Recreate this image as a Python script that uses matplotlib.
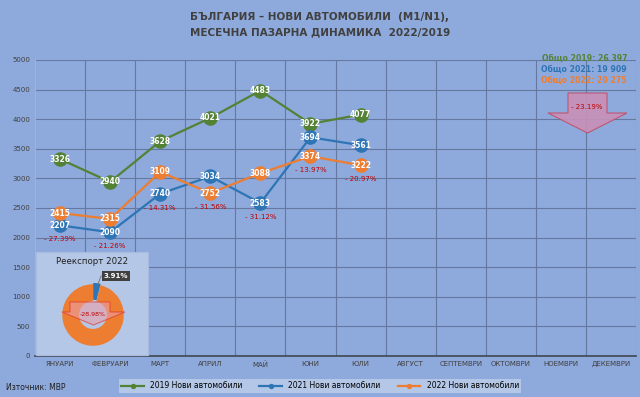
import numpy as np
import matplotlib.pyplot as plt
from matplotlib.patches import Polygon, Rectangle

months = ["ЯНУАРИ", "ФЕВРУАРИ", "МАРТ", "АПРИЛ", "МАЙ", "ЮНИ", "ЮЛИ",
          "АВГУСТ", "СЕПТЕМВРИ", "ОКТОМВРИ", "НОЕМВРИ", "ДЕКЕМВРИ"]
cars_2019 = [3326, 2940, 3628, 4021, 4483, 3922, 4077]
cars_2021 = [2207, 2090, 2740, 3034, 2583, 3694, 3561]
cars_2022 = [2415, 2315, 3109, 2752, 3088, 3374, 3222]
change_pct = ["- 27.39%", "- 21.26%", "- 14.31%", "- 31.56%", "- 31.12%", "- 13.97%", "- 20.97%"]
totals = ["Общо 2019: 26 397", "Общо 2021: 19 909", "Общо 2022: 20 275"]
total_change = "- 23.19%"
reexport_share = [3.91, 96.09]
reexport_change = "-28.98%"

bg = "#8EA9DB"
light = "#B4C7E7"
green = "#548235"
blue = "#2E75B6"
orange = "#ED7D31"
red = "#C00000"
W, H = 640, 397

fig = plt.figure(figsize=(6.4, 3.97), dpi=100, facecolor=bg)
ax = fig.add_axes([35 / W, 1 - 356 / H, 601 / W, 296 / H])
ax.set_facecolor(bg)

x = np.arange(len(cars_2019))
series = [(cars_2019, green, "2019 Нови автомобили"),
          (cars_2021, blue, "2021 Нови автомобили"),
          (cars_2022, orange, "2022 Нови автомобили")]
for vals, c, lab in series:
    ax.plot(x, vals, color=c, lw=1.6, marker="o", ms=9.5, mec=c, label=lab, zorder=3)
    for xi, v in zip(x, vals):
        ax.text(xi, v, str(v), color="white", fontsize=5.5, fontweight="bold",
                ha="center", va="center", zorder=4)

for xi, p in enumerate(change_pct):
    low = min(cars_2019[xi], cars_2021[xi], cars_2022[xi])
    ax.annotate(p, (xi, low), xytext=(0, -10), textcoords="offset points",
                ha="center", va="center", color=red, fontsize=5, zorder=4)

ax.set_xlim(-0.5, 11.5)
ax.set_ylim(0, 5000)
ax.set_yticks(np.arange(0, 5001, 500))
ax.set_xticks(np.arange(12))
ax.set_xticklabels(months)
ax.set_xticks(np.arange(-0.5, 12, 1), minor=True)
ax.tick_params(axis="both", which="major", length=0, labelsize=5, colors="#404040")
ax.tick_params(axis="x", which="minor", length=0)
ax.grid(axis="y", color="#6478A0", lw=0.8)
ax.grid(axis="x", which="minor", color="#6478A0", lw=0.8)
for s in ["top", "right"]:
    ax.spines[s].set_visible(False)
ax.spines["left"].set_color("#9FB3DB")
ax.spines["bottom"].set_color("#404850")
ax.spines["bottom"].set_linewidth(1.2)

fig.text(0.5, 1 - 17 / H, "БЪЛГАРИЯ – НОВИ АВТОМОБИЛИ  (M1/N1),", ha="center", va="center",
         fontsize=7.5, fontweight="bold", color="#404040")
fig.text(0.5, 1 - 32 / H, "МЕСЕЧНА ПАЗАРНА ДИНАМИКА  2022/2019", ha="center", va="center",
         fontsize=7.5, fontweight="bold", color="#404040")

for i, (t, c) in enumerate(zip(totals, [green, blue, orange])):
    fig.text(627 / W, 1 - (58 + 11 * i) / H, t, ha="right", va="center",
             fontsize=5.6, fontweight="bold", color=c)

def down_arrow(x0, x1, sx0, sx1, ytop, yhead, ytip, **kw):
    pts = [(sx0, ytop), (sx1, ytop), (sx1, yhead), (x1, yhead),
           ((x0 + x1) / 2, ytip), (x0, yhead), (sx0, yhead)]
    pts = [(px / W, 1 - py / H) for px, py in pts]
    fig.add_artist(Polygon(pts, closed=True, transform=fig.transFigure, **kw))

down_arrow(548, 627, 568, 607, 93, 113, 133, fc="#C890B8", ec="#C0506A", lw=0.8, alpha=0.9, zorder=5)
fig.text(587 / W, 1 - 107 / H, total_change, ha="center", va="center", fontsize=5,
         color=red, zorder=6)

# inset reexport donut
fig.add_artist(Rectangle((36 / W, 1 - 355 / H), 112 / W, 103 / H, transform=fig.transFigure,
                         fc=light, ec="#A9BCE0", lw=0.8, zorder=6))
fig.text(92 / W, 1 - 261 / H, "Реекспорт 2022", ha="center", va="center", fontsize=6.2,
         color="#202020", zorder=7)
pax = fig.add_axes([(93 - 34) / W, 1 - (315 + 34) / H, 68 / W, 68 / H], zorder=8)
pax.set_facecolor("none")
pax.pie(reexport_share, colors=[blue, orange], startangle=90, counterclock=False,
        explode=[0.04, 0], wedgeprops=dict(width=0.52, ec="none"), radius=0.95)
pax.set_xlim(-1.05, 1.05)
pax.set_ylim(-1.05, 1.05)
pax.set_aspect("equal")
pax.axis("off")
down_arrow(62, 125, 70, 110, 302, 312, 325, fc="#E8A0A8", ec="#E03020", lw=0.8,
           alpha=0.6, zorder=9)
fig.text(93 / W, 1 - 314 / H, reexport_change, ha="center", va="center", fontsize=4.5,
         color=red, zorder=10)
fig.text(116 / W, 1 - 276 / H, "%.2f%%" % reexport_share[0], ha="center", va="center",
         fontsize=5, fontweight="bold", color="white", zorder=10,
         bbox=dict(boxstyle="square,pad=0.25", fc="#404040", ec="none"))
fig.add_artist(plt.Line2D([97 / W, 101 / W, 106 / W], [1 - 287 / H, 1 - 276 / H, 1 - 276 / H],
                          transform=fig.transFigure, color="#707070", lw=0.6, zorder=10))

fig.legend(loc="center", bbox_to_anchor=(320 / W, 1 - 386 / H), ncol=3, fontsize=5.5,
           facecolor=light, edgecolor="none", framealpha=1, fancybox=False,
           markerscale=0.3, handlelength=3, columnspacing=2.2, borderpad=0.35)
fig.text(6 / W, 1 - 388 / H, "Източник: МВР", ha="left", va="center", fontsize=5.5,
         color="#202020")

fig.savefig("out.png", dpi=100, facecolor=bg)
